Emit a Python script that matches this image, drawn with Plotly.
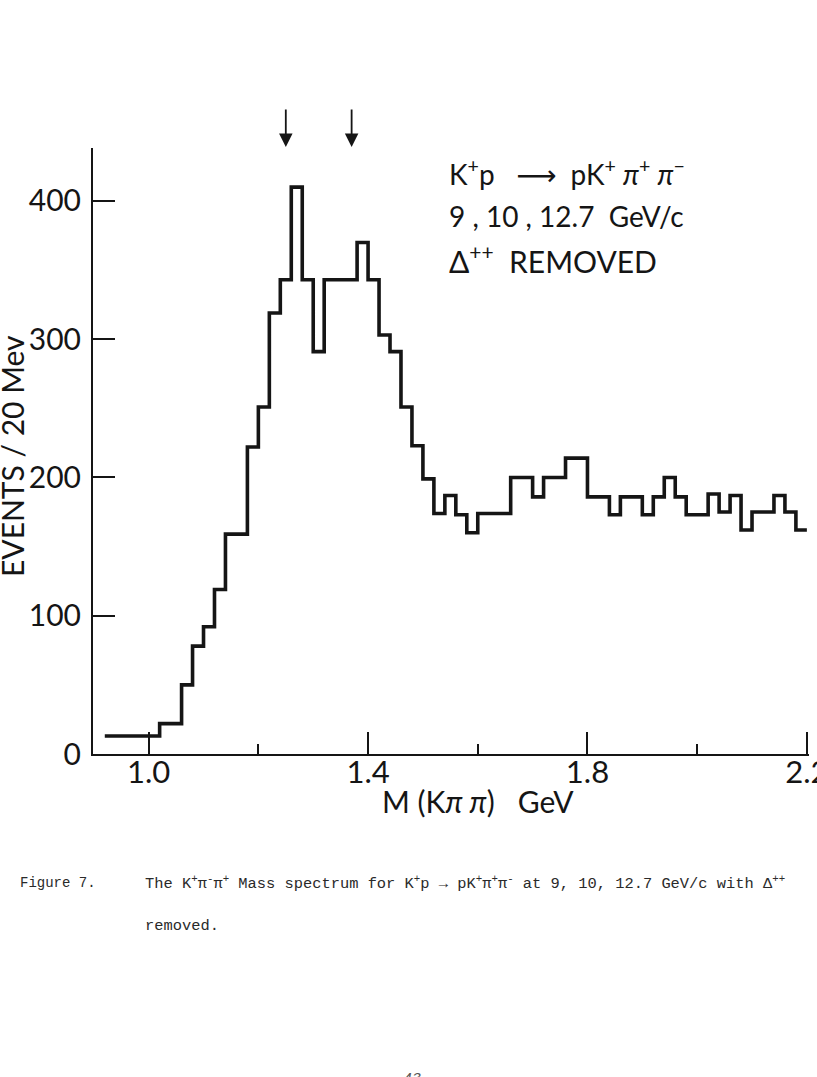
import plotly.graph_objects as go

# ---- data ----
bin_start = 0.92          # GeV, lower edge of first bin
bin_width = 0.02          # GeV (20 MeV bins)
counts = [13, 13, 13, 13, 13,
          22, 22, 50, 78, 92, 119, 159, 159, 222, 251,
          319, 343, 410, 343, 291, 343, 343, 343, 370, 343,
          303, 291, 251, 223, 199, 174, 187, 173, 160,
          174, 174, 174, 200, 200, 186, 200, 200, 214, 214,
          186, 186, 173, 186, 186, 173, 186, 200, 186, 173, 173,
          188, 175, 187, 162, 175, 175, 187, 175, 162]
arrow_masses = [1.25, 1.37]
x_tick_vals = [1.0, 1.4, 1.8, 2.2]
x_tick_text = ["1.0", "1.4", "1.8", "2.2"]
x_minor_vals = [1.2, 1.6, 2.0]
y_tick_vals = [0, 100, 200, 300, 400]
y_tick_text = ["0", "100", "200", "300", "400"]

edges = [round(bin_start + i * bin_width, 4) for i in range(len(counts) + 1)]
yvals = counts + [counts[-1]]

INK = "#151515"
FONT = "Lato, 'Open Sans', 'DejaVu Sans', sans-serif"
W, H = 817, 1077
ML, MR, MT, MB = 93, 8, 148, 323
x_range = [0.8985, 0.8985 + (W - ML - MR) / 548.5]
y_range = [0, 438.3]
NB = "\u00a0"


def px_x(px):
    return (px - ML) / (W - ML - MR)


def px_y(py):
    return (H - MB - py) / (H - MT - MB)


fig = go.Figure()
fig.add_trace(go.Scatter(
    x=edges, y=yvals, mode="lines",
    line=dict(shape="hv", color=INK, width=3.6),
    hoverinfo="skip", showlegend=False,
))

annotations = []
# arrows marking the peaks
for m in arrow_masses:
    annotations.append(dict(
        x=m, y=px_y(147), xref="x", yref="paper",
        ax=0, ay=-39, axref="pixel", ayref="pixel",
        text="", showarrow=True, arrowhead=2, arrowsize=1.5,
        arrowwidth=1.8, arrowcolor=INK, standoff=0,
    ))

# reaction text block
block = [
    ("K<sup>+</sup>p" + NB * 3 + "⟶" + NB * 2 + "pK<sup>+</sup>" + NB
     + "<i>π</i><sup>+</sup>" + NB + "<i>π</i><sup>−</sup>", 28),
    ("9" + NB + "," + NB + "10" + NB + "," + NB + "12.7" + NB + NB + "GeV/c", 28),
    ("Δ<sup>++</sup>" + NB * 2 + "REMOVED", 30),
]
for (txt, fs), cy in zip(block, [172, 216, 259]):
    annotations.append(dict(
        x=px_x(447), y=px_y(cy), xref="paper", yref="paper",
        xanchor="left", yanchor="middle", showarrow=False, text=txt,
        font=dict(family=FONT, size=fs, color=INK),
    ))

# axis titles
annotations.append(dict(
    x=px_x(12), y=px_y(456), xref="paper", yref="paper",
    xanchor="center", yanchor="middle", textangle=-90, showarrow=False,
    text="EVENTS" + NB + "/" + NB + "20" + NB + "Mev",
    font=dict(family=FONT, size=30, color=INK),
))
annotations.append(dict(
    x=px_x(478), y=px_y(801), xref="paper", yref="paper",
    xanchor="center", yanchor="middle", showarrow=False,
    text="M" + NB + "(K<i>π" + NB + "π</i>)" + NB + NB + NB + "GeV",
    font=dict(family=FONT, size=30, color=INK),
))

# caption
CAP = "'Liberation Mono', 'DejaVu Sans Mono', monospace"
CAPCOL = "#2a2a2a"
annotations.append(dict(
    x=px_x(18), y=px_y(883), xref="paper", yref="paper",
    xanchor="left", yanchor="middle", showarrow=False,
    text="Figure 7.", font=dict(family=CAP, size=14, color=CAPCOL),
))
annotations.append(dict(
    x=px_x(143), y=px_y(883), xref="paper", yref="paper",
    xanchor="left", yanchor="middle", showarrow=False,
    text=("The K<sup>+</sup>π<sup>-</sup>π<sup>+</sup> Mass spectrum for "
          "K<sup>+</sup>p → pK<sup>+</sup>π<sup>+</sup>π<sup>-</sup> at 9, 10, "
          "12.7 GeV/c with Δ<sup>++</sup>"),
    font=dict(family=CAP, size=15.4, color=CAPCOL),
))
annotations.append(dict(
    x=px_x(143), y=px_y(926), xref="paper", yref="paper",
    xanchor="left", yanchor="middle", showarrow=False,
    text="removed.", font=dict(family=CAP, size=15.4, color=CAPCOL),
))
annotations.append(dict(
    x=px_x(412), y=px_y(1069), xref="paper", yref="paper",
    xanchor="center", yanchor="top", showarrow=False,
    text="<i>43</i>", font=dict(family=CAP, size=15, color="#555"),
))

fig.update_layout(
    width=W, height=H,
    margin=dict(l=ML, r=MR, t=MT, b=MB, pad=0),
    paper_bgcolor="white", plot_bgcolor="white",
    showlegend=False,
    annotations=annotations,
    xaxis=dict(
        range=x_range, showgrid=False, zeroline=False,
        showline=True, linewidth=2, linecolor=INK,
        tickmode="array", tickvals=x_tick_vals, ticktext=x_tick_text,
        ticks="inside", ticklen=22, tickwidth=2, tickcolor=INK,
        minor=dict(tickvals=x_minor_vals, ticks="inside", ticklen=10,
                   tickwidth=2, tickcolor=INK, showgrid=False),
        tickfont=dict(family=FONT, size=31, color=INK),
        ticklabelstandoff=-10, ticklabeloverflow="allow", automargin=False,
    ),
    yaxis=dict(
        range=y_range, showgrid=False, zeroline=False,
        showline=True, linewidth=2, linecolor=INK,
        tickmode="array", tickvals=y_tick_vals, ticktext=y_tick_text,
        ticks="inside", ticklen=22, tickwidth=2, tickcolor=INK,
        tickfont=dict(family=FONT, size=30, color=INK),
        ticklabelstandoff=4, ticklabeloverflow="allow", automargin=False,
    ),
)

fig.write_html("out.html")
